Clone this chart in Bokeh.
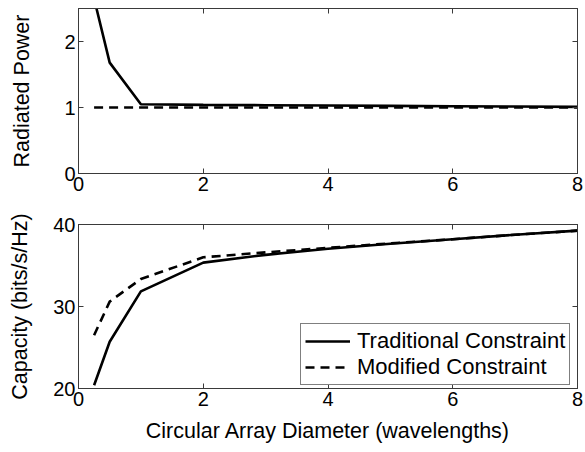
from bokeh.plotting import figure
from bokeh.layouts import column
from bokeh.models import Range1d, LinearAxis, FixedTicker, Legend, LegendItem
from bokeh.embed import file_html
from bokeh.resources import INLINE

# ---- data ----
diam = [0.25, 0.5, 1, 2, 3, 4, 5, 6, 7, 8]
power_trad = [2.65, 1.68, 1.05, 1.04, 1.035, 1.03, 1.025, 1.02, 1.015, 1.01]
power_mod = [1.0, 1.0, 1.0, 1.0, 1.0, 1.0, 1.0, 1.0, 1.0, 1.0]
cap_trad = [20.4, 25.7, 31.85, 35.35, 36.3, 37.05, 37.65, 38.2, 38.75, 39.25]
cap_mod = [26.5, 30.6, 33.35, 36.0, 36.6, 37.15, 37.7, 38.2, 38.75, 39.25]
x_ticks = [0, 2, 4, 6, 8]
power_ticks = [0, 1, 2]
cap_ticks = [20, 30, 40]

FONT = "Liberation Sans"
AX = "#3a3a3a"
TICK_SIZE = "20px"
LABEL_SIZE = "21.5px"
DASH = "9 6"
LW = 2.6


def style_axis(ax, ticks, show_labels=True):
    ax.ticker = FixedTicker(ticks=ticks)
    ax.major_tick_in = 5
    ax.major_tick_out = 0
    ax.minor_tick_in = 0
    ax.minor_tick_out = 0
    ax.major_tick_line_color = AX
    ax.axis_line_color = AX
    ax.major_label_text_font = FONT
    ax.major_label_text_color = "black"
    ax.axis_label_text_font = FONT
    ax.axis_label_text_font_style = "normal"
    ax.axis_label_text_color = "black"
    ax.axis_label_text_font_size = LABEL_SIZE
    ax.major_label_text_font_size = TICK_SIZE
    if show_labels:
        ax.major_label_standoff = 3
    else:
        ax.major_label_overrides = {t: "" for t in ticks}
        ax.major_label_standoff = 0


def make_fig(h, top, bottom, yr, yticks, ylabel, ystand, xlabel=None):
    p = figure(width=585, height=h, output_backend="svg", toolbar_location=None,
               x_range=Range1d(0, 8), y_range=yr,
               min_border_left=78, min_border_right=8,
               min_border_top=top, min_border_bottom=bottom)
    p.grid.visible = False
    p.outline_line_color = AX
    p.background_fill_color = "white"
    p.border_fill_color = "white"
    style_axis(p.xaxis[0], x_ticks)
    style_axis(p.yaxis[0], yticks)
    p.yaxis[0].axis_label = ylabel
    p.yaxis[0].axis_label_standoff = ystand
    if xlabel:
        p.xaxis[0].axis_label = xlabel
        p.xaxis[0].axis_label_standoff = 10
    ax_top = LinearAxis()
    style_axis(ax_top, x_ticks, show_labels=False)
    p.add_layout(ax_top, "above")
    ax_right = LinearAxis()
    style_axis(ax_right, yticks, show_labels=False)
    p.add_layout(ax_right, "right")
    return p


p1 = make_fig(200, 8, 27, Range1d(0, 2.5), power_ticks, "Radiated Power", 27)
p1.line(diam, power_trad, line_color="black", line_width=LW)
p1.line(diam, power_mod, line_color="black", line_width=LW, line_dash=DASH)

p2 = make_fig(252, 24, 64, Range1d(20, 40), cap_ticks, "Capacity (bits/s/Hz)", 18,
              "Circular Array Diameter (wavelengths)")
r1 = p2.line(diam, cap_trad, line_color="black", line_width=LW)
r2 = p2.line(diam, cap_mod, line_color="black", line_width=LW, line_dash=DASH)

legend = Legend(items=[LegendItem(label="Traditional Constraint", renderers=[r1]),
                       LegendItem(label="Modified Constraint", renderers=[r2])],
                location=(222, 3))
legend.label_text_font = FONT
legend.label_text_font_size = "22px"
legend.label_text_color = "black"
legend.glyph_width = 45
legend.label_standoff = 7
legend.padding = 4
legend.spacing = 0
legend.margin = 0
legend.border_line_color = "black"
legend.border_line_width = 1
legend.background_fill_alpha = 1.0
p2.add_layout(legend, "center")

layout = column(p1, p2, spacing=0)
open("out.html", "w").write(file_html(layout, INLINE))
